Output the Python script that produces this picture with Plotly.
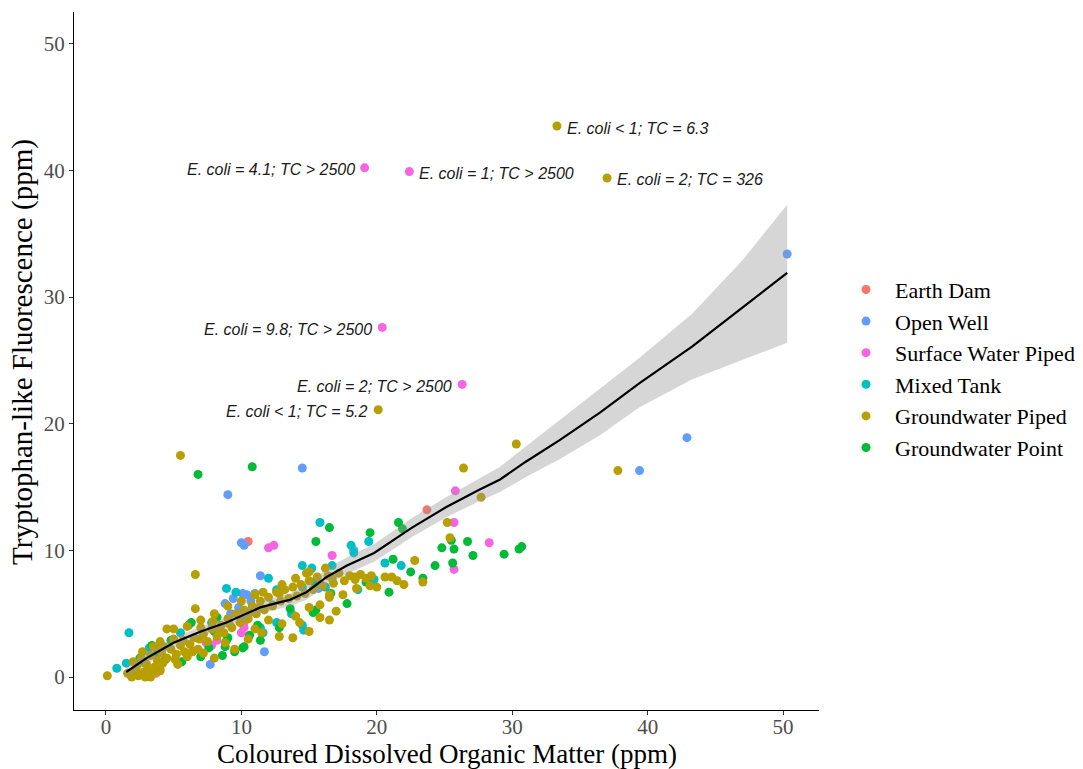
import plotly.graph_objects as go

# ---------------- data ----------------
earth_dam_x = [23.7, 10.5, 3.7, 10.2, 4.0]
earth_dam_y = [13.2, 10.7, 0.3, 4.3, 0.6]

open_well_x = [50.3, 42.9, 39.4, 14.5, 9.0, 10.2, 10.0, 11.7, 7.7, 11.4, 18.3, 10.1, 10.4, 8.8, 9.8,
               10.0, 12.3, 15.7, 9.4, 10.7, 11.0, 9.2]
open_well_y = [33.4, 18.9, 16.3, 16.5, 14.4, 10.4, 10.6, 2.0, 1.0, 8.0, 10.0, 6.6, 6.5, 5.8, 5.5,
               4.6, 5.7, 7.0, 6.2, 6.0, 6.6, 5.0]

surface_x = [19.1, 22.4, 20.4, 26.3, 25.8, 25.7, 28.3, 25.7, 16.7, 12.0, 12.4, 6.4, 7.4, 7.8, 8.2, 10.2, 10.0]
surface_y = [40.2, 39.9, 27.6, 23.1, 14.7, 12.2, 10.6, 8.5, 9.6, 10.2, 10.4, 2.1, 2.7, 2.5, 2.9, 3.9, 3.5]

mixed_x = [15.8, 1.7, 0.8, 1.5, 8.9, 12.0, 14.5, 18.1, 19.4, 13.7, 14.5, 14.6, 12.6, 11.4, 11.6, 3.2, 5.5,
           7.8, 8.9, 12.6, 9.6, 14.5, 16.2, 18.6, 16.7, 15.2, 19.8, 20.6, 21.8, 18.3]
mixed_y = [12.2, 3.5, 0.7, 1.1, 7.0, 7.8, 8.8, 10.4, 10.7, 5.0, 4.1, 3.7, 4.3, 3.9, 3.5, 2.3, 3.5,
           4.3, 2.9, 6.9, 6.7, 7.1, 7.1, 6.9, 8.8, 8.6, 7.7, 9.0, 8.8, 9.8]

gw_point_x = [6.8, 10.8, 16.5, 19.5, 15.5, 21.6, 21.9, 25.5, 24.8, 25.7, 26.7, 27.1, 29.4, 30.5, 30.7,
              24.3, 25.6, 22.5, 21.2, 23.4, 17.8, 20.9, 19.2, 15.4, 15.3, 15.5, 6.1, 6.3, 3.4, 2.5,
              4.4, 5.6, 7.0, 8.6, 8.8, 9.5, 10.2, 10.1, 11.4, 8.2, 9.0, 7.6, 8.0, 10.6, 11.2, 12.8,
              13.6, 16.6, 4.8, 3.8, 2.9]
gw_point_y = [16.0, 16.6, 11.8, 11.4, 10.7, 12.2, 11.7, 10.8, 10.2, 10.1, 10.7, 9.6, 9.7, 10.1, 10.3,
              8.8, 9.0, 8.3, 9.3, 7.8, 5.8, 6.7, 7.5, 7.5, 5.1, 5.3, 4.1, 4.3, 2.5, 1.5,
              1.4, 1.2, 1.6, 1.7, 2.4, 2.0, 2.4, 2.3, 2.9, 4.7, 3.1, 2.3, 3.6, 3.3, 4.1, 3.9,
              5.4, 6.6, 2.9, 1.9, 1.1]

gw_piped_x = [0.1, 1.9, 2.4, 2.9, 3.3, 2.2, 2.8, 3.5, 4.0, 2.0, 2.6, 3.0, 3.3, 3.8, 4.1, 4.5, 4.8, 5.2,
              5.5, 5.0, 5.8, 6.2, 6.5, 6.8, 7.2, 7.5, 7.8, 8.2, 8.5, 8.7, 9.0, 9.3, 9.6, 9.9, 10.2,
              10.5, 10.8, 11.1, 11.4, 11.7, 12.0, 12.3, 12.6, 12.9, 13.2, 13.5, 13.8, 14.1, 14.4,
              14.7, 15.0, 15.3, 15.6, 16.0, 16.4, 16.8, 17.2, 17.6, 18.0, 18.4, 18.8, 19.2, 19.6,
              20.0, 20.6, 21.1, 22.8, 23.4, 25.2, 26.4, 27.7, 30.3, 37.8, 5.5, 6.6, 6.6, 4.5, 20.1,
              33.3, 37.0,
              8.0, 9.5, 10.5, 11.5, 12.8, 13.8, 15.0, 16.5, 15.8, 14.3, 17.0, 13.0, 12.0, 11.0, 14.0,
              15.0, 15.8, 16.5, 17.5, 18.5, 19.5, 21.5, 22.0,
              3.5, 4.0, 5.0, 6.0, 7.0, 8.0, 9.0, 10.0, 11.0, 11.6, 12.8, 13.0, 14.0, 14.8, 15.0, 16.2,
              16.7, 18.4, 16.5, 1.6, 2.1, 3.1, 6.0, 7.2, 4.2, 5.3, 25.4,
              2.3, 3.6, 4.3, 5.7, 6.4, 7.0, 7.9, 8.4, 9.1, 9.8, 10.6, 11.3, 2.7, 3.9, 5.1, 6.9, 8.8]
gw_piped_y = [0.1, 0.0, 0.1, 0.0, 0.0, 0.5, 0.4, 0.3, 0.5, 1.2, 1.5, 1.0, 1.7, 1.3, 1.9, 1.5, 2.2, 1.8,
              2.5, 3.0, 2.0, 2.6, 3.1, 2.2, 3.4, 2.8, 3.8, 3.2, 4.1, 3.5, 4.6, 3.9, 5.0, 4.3, 5.3,
              4.6, 5.6, 5.0, 6.0, 5.3, 6.3, 5.6, 6.7, 6.0, 6.9, 6.2, 7.1, 6.4, 7.3,
              6.6, 7.6, 6.9, 7.9, 7.2, 8.0, 7.4, 8.2, 7.6, 8.0, 7.7, 8.1, 7.8, 8.0,
              7.1, 7.9, 7.9, 9.2, 7.5, 12.2, 16.5, 14.2, 18.4, 16.3, 17.5, 8.1, 5.4, 3.8, 21.1,
              43.5, 39.4,
              1.5, 2.2, 3.0, 3.5, 3.2, 3.1, 3.6, 4.5, 4.7, 4.3, 5.2, 4.2, 4.5, 3.8, 4.8,
              5.5, 5.7, 6.3, 6.5, 7.0, 7.2, 7.6, 7.3,
              2.4, 2.8, 3.8, 4.0, 4.5, 5.0, 5.6, 6.0, 6.5, 6.7, 6.6, 7.3, 7.8, 8.2, 8.3, 8.6,
              7.8, 7.9, 6.5, 0.3, 0.2, 0.5, 1.6, 1.9, 1.1, 1.0, 11.0,
              0.9, 0.8, 2.4, 2.9, 2.0, 3.9, 4.4, 3.7, 4.2, 4.9, 5.1, 5.5, 2.0, 2.2, 1.4, 3.0, 2.7]

# LOESS fit and its confidence band
fit_x = [1.5, 3, 5, 7, 8.9, 11.4, 12.8, 13.6, 14.8, 16.3, 17.8, 19.8, 22.6, 25.1, 27.6, 29.1, 31,
         33.5, 36.5, 39.4, 43.3, 47.0, 50.3]
fit_y = [0.4, 1.5, 2.7, 3.6, 4.3, 5.5, 5.9, 6.1, 6.7, 7.9, 8.8, 9.8, 11.8, 13.4, 14.8, 15.6, 17.0,
         18.7, 20.9, 23.2, 26.1, 29.2, 31.9]
fit_upper = [0.9, 1.95, 3.1, 4.0, 4.7, 5.95, 6.4, 6.6, 7.3, 8.55, 9.45, 10.5, 12.55, 14.2, 15.7, 16.6,
             18.2, 20.3, 22.8, 25.2, 28.7, 32.9, 37.3]
fit_lower = [-0.1, 1.05, 2.3, 3.2, 3.9, 5.05, 5.4, 5.6, 6.1, 7.25, 8.15, 9.1, 11.05, 12.6, 13.9, 14.6,
             15.8, 17.2, 19.1, 21.3, 23.5, 25.0, 26.4]

x_ticks = [0, 10, 20, 30, 40, 50]
y_ticks = [0, 10, 20, 30, 40, 50]

labels = [
    # (x, y, text, side)
    (33.3, 43.5, "E. coli &lt; 1; TC = 6.3", "right"),
    (19.1, 40.2, "E. coli = 4.1; TC &gt; 2500", "left"),
    (22.4, 39.9, "E. coli = 1; TC &gt; 2500", "right"),
    (37.0, 39.4, "E. coli = 2; TC = 326", "right"),
    (20.4, 27.6, "E. coli = 9.8; TC &gt; 2500", "left"),
    (26.3, 23.1, "E. coli = 2; TC &gt; 2500", "left"),
    (20.1, 21.1, "E. coli &lt; 1; TC = 5.2", "left"),
]

# ---------------- figure ----------------
series = [
    ("Earth Dam", earth_dam_x, earth_dam_y, "#F8766D", 1),
    ("Open Well", open_well_x, open_well_y, "#619CFF", 2),
    ("Surface Water Piped", surface_x, surface_y, "#F564E3", 3),
    ("Mixed Tank", mixed_x, mixed_y, "#00BFC4", 4),
    ("Groundwater Point", gw_point_x, gw_point_y, "#00BA38", 6),
    ("Groundwater Piped", gw_piped_x, gw_piped_y, "#B79F00", 5),
]

fig = go.Figure()
for name, xs, ys, col, rank in series:
    fig.add_trace(go.Scatter(
        x=xs, y=ys, mode="markers", name=name, legendrank=rank, legendgroup=name,
        marker=dict(color=col, size=9, line=dict(width=0)),
    ))

# confidence band
fig.add_trace(go.Scatter(x=fit_x, y=fit_lower, mode="lines", line=dict(width=0),
                         showlegend=False, hoverinfo="skip"))
fig.add_trace(go.Scatter(x=fit_x, y=fit_upper, mode="lines", line=dict(width=0),
                         fill="tonexty", fillcolor="rgba(153,153,153,0.4)",
                         showlegend=False, hoverinfo="skip"))
fig.add_trace(go.Scatter(x=fit_x, y=fit_y, mode="lines", line=dict(color="black", width=2.2),
                         showlegend=False, hoverinfo="skip"))

annotations = []
for lx, ly, txt, side in labels:
    annotations.append(dict(
        x=lx, y=ly, xref="x", yref="y", text="<i>" + txt + "</i>", showarrow=False,
        xanchor="left" if side == "right" else "right",
        xshift=8 if side == "right" else -8, yshift=-2,
        font=dict(family="Liberation Sans, Arial", size=16, color="#1a1a1a"),
    ))

annotations.append(dict(
    x=0.5, y=0.0, xref="paper", yref="paper", yshift=-44, text="Coloured Dissolved Organic Matter (ppm)",
    showarrow=False, xanchor="center", yanchor="middle",
    font=dict(family="Liberation Serif, Times New Roman", size=27, color="black")))
annotations.append(dict(
    x=0.0, y=0.513, xref="paper", yref="paper", xshift=-51, text="Tryptophan-like Fluorescence (ppm)",
    showarrow=False, xanchor="center", yanchor="middle", textangle=-90,
    font=dict(family="Liberation Serif, Times New Roman", size=29, color="black")))

axis_common = dict(
    showgrid=False, zeroline=False, showline=True, linecolor="black", linewidth=1,
    ticks="outside", ticklen=4, tickcolor="#333333", tickwidth=1,
    tickfont=dict(family="Liberation Serif, Times New Roman", size=21, color="#4D4D4D"),
    automargin=False,
)

fig.update_layout(
    width=1075, height=761,
    margin=dict(l=66, r=263, t=4, b=59),
    paper_bgcolor="white", plot_bgcolor="white",
    xaxis=dict(range=[-2.36, 52.65], tickvals=x_ticks, ticklabelstandoff=-6, **axis_common),
    yaxis=dict(range=[-2.6, 52.5], tickvals=y_ticks, **axis_common),
    legend=dict(x=1.0228, y=0.489, xanchor="left", yanchor="middle",
                traceorder="grouped", tracegroupgap=0, itemwidth=48,
                font=dict(family="Liberation Serif, Times New Roman", size=22, color="black")),
    annotations=annotations,
    showlegend=True,
)

fig.write_html("out.html")
